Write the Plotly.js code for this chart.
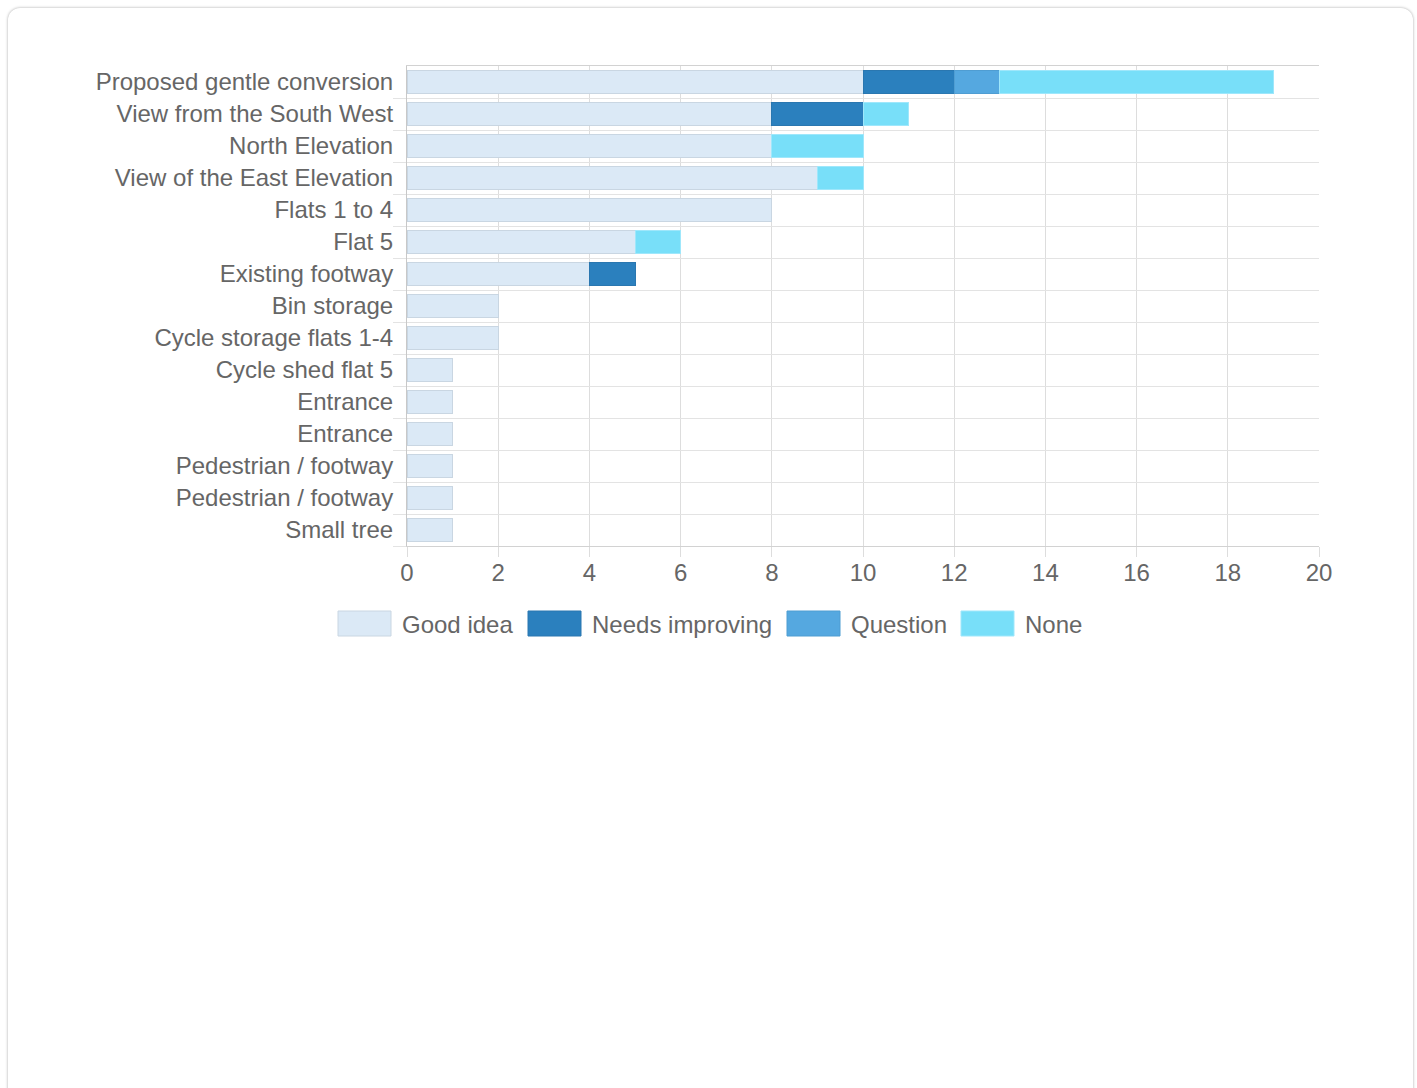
<!DOCTYPE html>
<html>
<head>
<meta charset="utf-8">
<script src="https://cdn.plot.ly/plotly-3.0.1.min.js"></script>
<style>
  html, body { margin: 0; padding: 0; background: #ffffff; width: 1417px; height: 1088px; overflow: hidden; }
  #card { position: absolute; left: 8px; top: 8px; width: 1405px; height: 1100px; background: #fff;
          border-radius: 12px; box-shadow: 0 0 3px rgba(0,0,0,0.35); }
  #chart { position: absolute; left: 0; top: 0; width: 1417px; height: 700px; }
</style>
</head>
<body>
<div id="card"></div>
<div id="chart"></div>
<script>
// ---- data ----
const categories = [
  "Proposed gentle conversion",
  "View from the South West",
  "North Elevation",
  "View of the East Elevation",
  "Flats 1 to 4",
  "Flat 5",
  "Existing footway",
  "Bin storage",
  "Cycle storage flats 1-4",
  "Cycle shed flat 5",
  "Entrance",
  "Entrance",
  "Pedestrian / footway",
  "Pedestrian / footway",
  "Small tree"
];
const seriesNames = ["Good idea", "Needs improving", "Question", "None"];
const goodIdea       = [10, 8, 8, 9, 8, 5, 4, 2, 2, 1, 1, 1, 1, 1, 1];
const needsImproving = [2, 2, null, null, null, null, 1, null, null, null, null, null, null, null, null];
const question       = [1, null, null, null, null, null, null, null, null, null, null, null, null, null, null];
const none           = [6, 1, 2, 1, null, 1, null, null, null, null, null, null, null, null, null];
const xTicks = [0, 2, 4, 6, 8, 10, 12, 14, 16, 18, 20];

const colors = ["#dbe9f6", "#2b80be", "#55a8e0", "#78dff9"];
const lineColors = ["#c9d6e2", "#2a77b0", "#4f9dd2", "#9fe7fb"];

// unique ids for categories (labels can repeat)
const ids = categories.map((c, i) => "c" + i);

const seriesValues = [goodIdea, needsImproving, question, none];
const traces = seriesValues.map((vals, k) => ({
  type: "bar",
  orientation: "h",
  name: seriesNames[k],
  x: vals,
  y: ids,
  marker: { color: colors[k], line: { color: lineColors[k], width: 1 } },
  hoverinfo: "x+name",
  showlegend: false
}));

const FONT = "Liberation Sans, Arial, sans-serif";
const FS = 24;
const W = 1417, H = 700;
const M = { l: 407, r: 98, t: 66, b: 154 };
const pw = W - M.l - M.r, ph = H - M.t - M.b;
const px2x = px => (px - M.l) / pw;
const px2y = py => (H - M.b - py) / ph;

// custom legend (large swatches)
const legendSwatchX = [338, 528, 787, 961];
const shapes = [], annotations = [];
seriesNames.forEach((n, k) => {
  shapes.push({
    type: "rect", xref: "paper", yref: "paper",
    x0: px2x(legendSwatchX[k]), x1: px2x(legendSwatchX[k] + 53),
    y0: px2y(636), y1: px2y(611),
    fillcolor: colors[k], line: { color: lineColors[k], width: 1 }
  });
  annotations.push({
    xref: "paper", yref: "paper", x: px2x(legendSwatchX[k] + 62), y: px2y(624),
    xanchor: "left", yanchor: "middle", showarrow: false, text: n,
    font: { family: FONT, size: FS, color: "#666666" }
  });
});

const layout = {
  width: W, height: H,
  margin: M,
  paper_bgcolor: "rgba(0,0,0,0)",
  plot_bgcolor: "rgba(0,0,0,0)",
  barmode: "stack",
  bargap: 0.26,
  showlegend: false,
  font: { family: FONT, size: FS, color: "#666666" },
  xaxis: {
    range: [0, 20], tickmode: "array", tickvals: xTicks,
    showgrid: true, gridcolor: "#dddddd", gridwidth: 1,
    zeroline: false, showline: true, mirror: true, linecolor: "#d2d2d2", linewidth: 1,
    ticks: "outside", ticklen: 10, tickcolor: "#dddddd",
    ticklabelstandoff: -5,
    tickfont: { family: FONT, size: FS, color: "#666666" }, fixedrange: true
  },
  yaxis: {
    type: "category",
    categoryorder: "array", categoryarray: ids.slice().reverse(),
    tickmode: "array", tickvals: ids, ticktext: categories,
    tickson: "boundaries",
    showgrid: true, gridcolor: "#e3e3e3", gridwidth: 1,
    ticks: "outside", ticklen: 13, tickcolor: "#e3e3e3",
    ticklabelstandoff: 8,
    showline: true, linecolor: "#c8c8c8", linewidth: 1,
    zeroline: false,
    tickfont: { family: FONT, size: FS, color: "#666666" }, fixedrange: true
  },
  shapes: shapes,
  annotations: annotations
};

Plotly.newPlot("chart", traces, layout, { displayModeBar: false });
</script>
</body>
</html>
